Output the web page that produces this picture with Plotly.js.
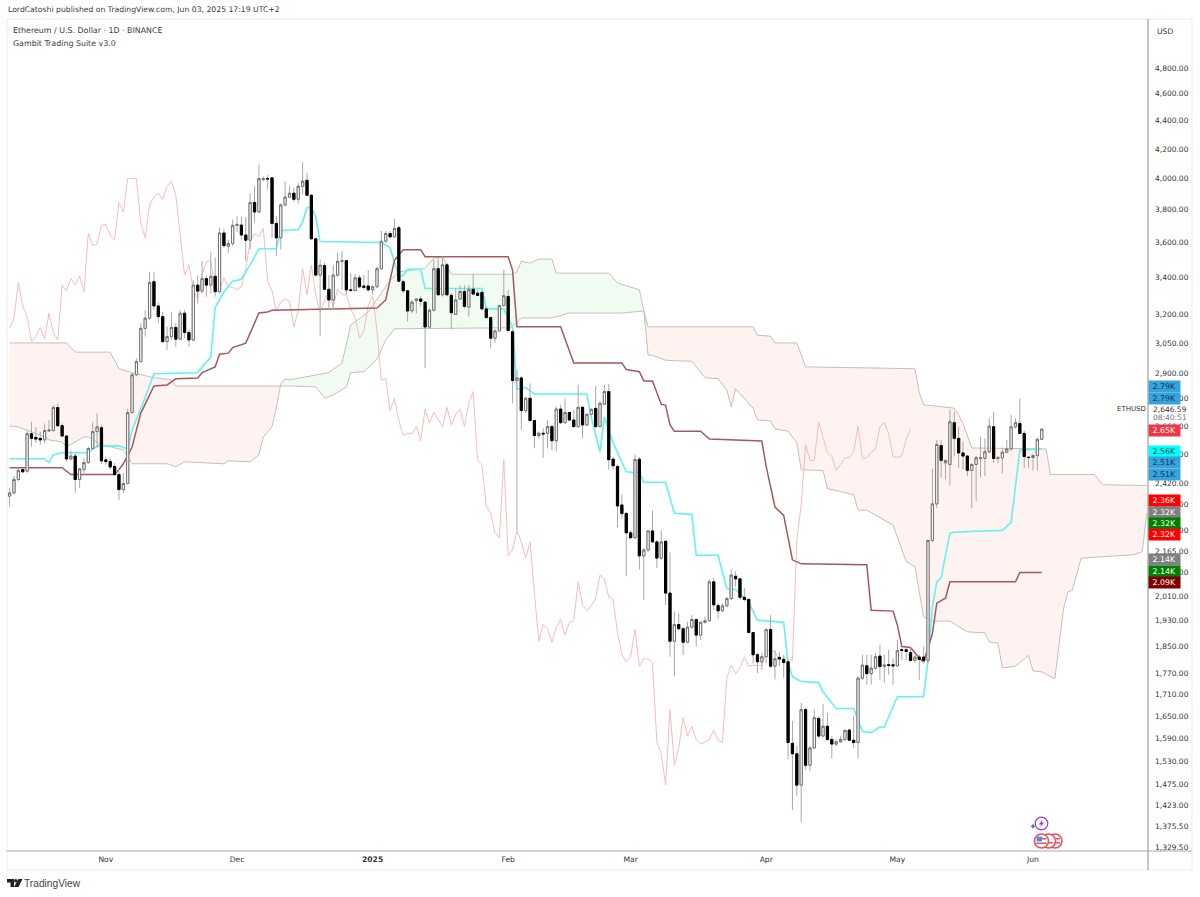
<!DOCTYPE html>
<html><head><meta charset="utf-8">
<script src="https://cdn.plot.ly/plotly-3.0.1.min.js"></script>
<style>html,body{margin:0;padding:0;background:#fff}#c{width:1200px;height:897px}</style>
</head><body><div id="c"></div>
<script>
// Daily ETH/USD candles, first bar 2024-10-10, last bar 2025-06-03
const opens = [
2370,2383,2436,2476,2470,2627,2611,2607,2600,2639,
2641,2743,2662,2617,2520,2532,2436,2476,2505,2564,
2636,2653,2516,2509,2489,2456,2396,2420,2720,2895,
2958,3125,3178,3375,3243,3186,3058,3083,3130,3070,
3204,3104,3066,3356,3323,3392,3356,3405,3320,3657,
3578,3594,3703,3705,3645,3614,3845,3786,3994,4000,
4005,3715,3628,3830,3880,3905,3866,3950,3989,3892,
3622,3412,3466,3333,3275,3412,3490,3494,3330,3326,
3396,3351,3351,3330,3347,3448,3608,3654,3634,3689,
3375,3325,3216,3271,3280,3263,3132,3220,3448,3303,
3470,3300,3198,3280,3321,3236,3333,3312,3316,3227,
3181,3075,3112,3245,3294,3108,2868,2880,2729,2785,
2685,2619,2629,2629,2658,2597,2736,2675,2720,2687,
2658,2744,2665,2712,2739,2658,2758,2816,2519,2489,
2336,2303,2231,2213,2519,2148,2169,2238,2198,2140,
2200,2020,1866,1918,1905,1863,1910,1934,1885,1925,
1930,2058,1979,1962,1978,2002,2077,2068,2006,1999,
1893,1825,1804,1819,1902,1791,1817,1811,1804,1577,
1550,1472,1667,1521,1565,1643,1596,1622,1587,1575,
1581,1587,1612,1585,1579,1756,1792,1769,1785,1821,
1790,1795,1795,1792,1840,1840,1832,1808,1818,1818,
1808,2203,2340,2576,2504,2497,2675,2607,2545,2532,
2473,2497,2522,2522,2550,2657,2522,2525,2548,2562,
2657,2672,2628,2527,2526,2534,2603];
const highs = [
2403,2450,2483,2483,2641,2679,2656,2636,2672,2687,
2755,2762,2672,2621,2556,2543,2483,2523,2571,2679,
2717,2665,2529,2523,2503,2469,2463,2738,2903,2974,
3152,3220,3430,3430,3263,3212,3135,3212,3152,3222,
3222,3118,3383,3410,3492,3410,3543,3512,3690,3680,
3618,3740,3760,3755,3755,3905,3950,4093,4015,4025,
4005,3760,3840,3983,3950,3940,3970,4110,4040,3900,
3628,3500,3482,3412,3470,3540,3550,3494,3422,3418,
3412,3412,3440,3356,3460,3669,3669,3669,3743,3699,
3384,3330,3275,3285,3294,3267,3230,3500,3510,3520,
3482,3312,3339,3356,3356,3356,3418,3330,3321,3240,
3186,3121,3249,3440,3330,3114,2919,2888,2792,2855,
2687,2636,2650,2687,2665,2747,2755,2785,2725,2732,
2848,2747,2717,2739,2842,2770,2848,2852,2528,2496,
2376,2310,2240,2538,2528,2175,2240,2315,2204,2240,
2204,2160,1959,1954,1910,1927,1948,1937,1927,1943,
2066,2072,1986,1986,2008,2100,2094,2072,2037,2002,
1895,1830,1830,1905,1948,1838,1834,1824,1809,1636,
1570,1685,1672,1570,1667,1650,1683,1658,1596,1587,
1596,1613,1615,1650,1761,1825,1825,1825,1830,1855,
1825,1840,1814,1870,1845,1845,1850,1825,1825,1850,
2208,2480,2600,2600,2517,2732,2725,2657,2593,2537,
2503,2532,2614,2607,2694,2725,2532,2567,2600,2709,
2694,2784,2640,2532,2541,2607,2650];
const lows = [
2330,2376,2430,2463,2463,2572,2586,2579,2586,2636,
2636,2657,2614,2509,2516,2383,2403,2463,2500,2558,
2564,2500,2496,2476,2449,2356,2383,2416,2716,2887,
2958,3083,3168,3222,3152,3050,3015,3066,3030,3066,
3075,3030,3058,3257,3311,3293,3311,3293,3311,3570,
3540,3578,3663,3618,3492,3560,3720,3780,3983,3930,
3628,3520,3560,3820,3875,3850,3840,3895,3885,3620,
3402,3085,3330,3222,3222,3402,3330,3303,3321,3321,
3339,3330,3321,3303,3339,3442,3598,3628,3628,3375,
3312,3160,3204,3204,3240,2926,3127,3212,3294,3294,
3294,3121,3195,3275,3230,3186,3303,3294,3222,3178,
3024,3050,3108,3240,3108,2762,2240,2645,2717,2680,
2565,2607,2524,2565,2558,2551,2672,2672,2680,2651,
2651,2607,2658,2709,2651,2655,2755,2476,2476,2252,
2284,2077,2210,2210,2100,1997,2163,2194,2106,2134,
1981,1819,1761,1900,1824,1860,1905,1850,1870,1921,
1927,1964,1937,1959,1973,1997,2042,1997,1992,1890,
1799,1771,1780,1799,1785,1752,1790,1757,1536,1413,
1446,1385,1510,1506,1562,1591,1594,1583,1538,1570,
1579,1583,1583,1566,1538,1751,1737,1737,1780,1751,
1742,1766,1737,1789,1809,1809,1804,1800,1751,1799,
1800,2198,2323,2443,2437,2413,2530,2482,2476,2449,
2323,2350,2443,2449,2543,2503,2503,2461,2543,2552,
2648,2628,2482,2482,2473,2473,2600];
const closes = [
2383,2436,2473,2467,2627,2607,2604,2600,2641,2643,
2743,2662,2617,2520,2532,2436,2479,2505,2564,2636,
2657,2512,2509,2487,2456,2396,2420,2720,2895,2958,
3125,3178,3370,3243,3186,3058,3083,3130,3070,3204,
3104,3066,3356,3323,3392,3356,3405,3320,3657,3582,
3594,3703,3709,3645,3614,3845,3786,4000,4000,3998,
3715,3628,3830,3880,3905,3866,3950,3983,3892,3622,
3412,3468,3333,3275,3412,3490,3494,3330,3326,3396,
3347,3344,3330,3347,3448,3608,3654,3634,3685,3378,
3325,3216,3263,3280,3268,3132,3220,3448,3303,3470,
3303,3207,3275,3321,3240,3333,3307,3299,3227,3181,
3075,3112,3245,3298,3114,2868,2880,2729,2785,2685,
2619,2629,2626,2658,2597,2736,2675,2720,2687,2658,
2744,2665,2712,2735,2658,2762,2816,2517,2492,2332,
2303,2231,2213,2517,2148,2169,2238,2198,2140,2198,
2020,1866,1918,1905,1863,1910,1934,1885,1925,1930,
2058,1981,1962,1978,2002,2081,2068,2006,1999,1893,
1825,1804,1819,1902,1791,1813,1812,1802,1579,1550,
1472,1667,1521,1565,1645,1596,1622,1587,1575,1581,
1587,1611,1585,1579,1756,1794,1769,1785,1819,1790,
1794,1793,1792,1837,1838,1835,1808,1818,1811,1808,
2203,2340,2581,2514,2514,2679,2607,2545,2532,2473,
2497,2525,2525,2550,2660,2522,2525,2548,2562,2657,
2675,2628,2530,2526,2534,2603,2646.59];

// Thin pink line, one value a day from the first bar
const laggingSpan = [
3125,3178,3370,3243,3186,3058,3083,3130,3070,3204,
3104,3066,3356,3323,3392,3356,3405,3320,3657,3582,
3594,3703,3709,3645,3614,3845,3786,4000,4000,3998,
3715,3628,3830,3880,3905,3866,3950,3983,3892,3622,
3412,3468,3333,3275,3412,3490,3494,3330,3326,3396,
3347,3344,3330,3347,3448,3608,3654,3634,3685,3378,
3325,3216,3263,3280,3268,3132,3220,3448,3303,3470,
3303,3207,3275,3321,3240,3333,3307,3299,3227,3181,
3075,3112,3245,3298,3114,2868,2880,2729,2785,2685,
2619,2629,2626,2658,2597,2736,2675,2720,2687,2658,
2744,2665,2712,2735,2658,2762,2816,2517,2492,2332,
2303,2231,2213,2517,2148,2169,2238,2198,2140,2198,
2020,1866,1918,1905,1863,1910,1934,1885,1925,1930,
2058,1981,1962,1978,2002,2081,2068,2006,1999,1893,
1825,1804,1819,1902,1791,1813,1812,1802,1579,1550,
1472,1667,1521,1565,1645,1596,1622,1587,1575,1581,
1587,1611,1585,1579,1756,1794,1769,1785,1819,1790,
1794,1793,1792,1837,1838,1835,1808,1818,1811,1808,
2203,2340,2581,2514,2514,2679,2607,2545,2532,2473,
2497,2525,2525,2550,2660,2522,2525,2548,2562,2657,
2675,2628,2530,2526,2534,2603,2646.59];

// Cyan line: bar number and price
const fastDays = [0,8,9,10,12,18,20,25,27,28,31,33,43,44,46,47,49,51,53,55,57,61,62,66,67,68,69,70,71,85,87,89,90,91,94,95,108,109,113,115,116,118,120,132,133,135,136,138,141,144,145,150,152,156,157,162,164,166,169,171,177,178,179,181,185,186,189,193,195,197,199,200,203,209,210,211,212,213,215,216,221,227,229,231,236];
const fastVals = [2521,2521,2504,2537,2546,2546,2575,2575,2562,2643,2790,2900,2905,2933,2980,3235,3318,3378,3389,3470,3563,3563,3672,3678,3725,3813,3813,3757,3606,3600,3570,3400,3411,3444,3444,3337,3337,3227,3227,3133,2827,2835,2805,2805,2700,2550,2700,2588,2467,2463,2425,2425,2304,2300,2150,2150,2035,2032,1990,1932,1925,1800,1760,1746,1743,1717,1670,1670,1608,1605,1620,1620,1703,1703,1808,1975,2058,2072,2230,2233,2237,2240,2270,2557,2562];
// Brown line
const slowDays = [0,12,14,24,25,26,28,30,33,36,38,43,44,47,48,50,51,54,57,59,60,84,86,88,90,94,95,114,115,116,126,129,140,141,144,145,147,149,150,151,152,158,160,172,173,175,177,179,181,196,197,202,203,204,206,208,209,211,212,214,215,230,231,236];
const slowVals = [2484,2484,2456,2456,2476,2500,2570,2718,2842,2847,2876,2880,2905,2933,2995,3000,3028,3050,3205,3210,3220,3232,3275,3497,3558,3558,3517,3517,3440,3133,3133,2952,2952,2920,2910,2866,2866,2758,2753,2665,2638,2638,2604,2596,2488,2328,2296,2134,2120,2117,1964,1961,1916,1850,1847,1815,1803,1890,1987,2003,2058,2058,2090,2090];
// Cloud edges
const spanADays = [0,2,5,8,9,12,13,15,17,18,21,26,28,36,38,40,49,50,55,57,58,60,61,62,63,64,73,76,77,78,82,85,87,89,95,97,99,101,115,116,117,119,121,124,125,137,139,144,145,146,147,150,156,159,162,164,165,166,168,170,171,174,175,178,180,181,186,187,193,194,196,202,205,207,209,211,215,219,223,224,226,227,230,233,234,236,239,241,242,243,245,252,257,259,260];
const spanAVals = [2661,2657,2635,2613,2600,2592,2571,2592,2613,2613,2579,2558,2500,2500,2488,2508,2500,2512,2508,2537,2613,2657,2745,2852,2876,2871,2905,2952,3051,3143,3210,3315,3383,3430,3450,3510,3517,3417,3417,3430,3491,3480,3503,3503,3423,3423,3368,3330,3220,2990,2990,2965,2960,2881,2876,2823,2745,2829,2786,2740,2687,2683,2648,2638,2587,2476,2472,2400,2376,2316,2316,2260,2128,2110,1942,1929,1929,1895,1892,1864,1860,1786,1791,1823,1777,1774,1754,1970,2025,2029,2140,2148,2152,2163,2304];
const spanBDays = [0,13,15,23,25,28,33,37,38,62,64,70,72,74,76,77,78,81,84,86,88,114,115,117,124,128,140,145,146,170,171,174,175,180,182,204,207,208,209,216,217,218,220,237,238,248,250,260];
const spanBVals = [3051,3051,3005,3005,2924,2905,2881,2871,2842,2842,2842,2838,2786,2800,2823,2838,2905,2910,2970,3065,3123,3128,3133,3179,3179,3205,3205,3216,3133,3133,3090,3085,3051,3051,2933,2928,2924,2810,2755,2740,2710,2672,2566,2562,2456,2456,2415,2412];

// Axis text
const monthDates = ['2024-11-01','2024-12-01','2025-01-01','2025-02-01','2025-03-01','2025-04-01','2025-05-01','2025-06-01'];
const monthLabels = ['Nov','Dec','<b>2025</b>','Feb','Mar','Apr','May','Jun'];
const priceTicks = [4800,4600,4400,4200,4000,3800,3600,3400,3200,3050,2900,2785,2660,2540,2420,2340,2240,2165,2090,2010,1930,1850,1770,1710,1650,1590,1530,1475,1423,1375.5,1329.5];
const priceTickText = ['4,800.00','4,600.00','4,400.00','4,200.00','4,000.00','3,800.00','3,600.00','3,400.00','3,200.00','3,050.00','2,900.00','2,785.00','2,660.00','2,540.00','2,420.00','2,340.00','2,240.00','2,165.00','2,090.00','2,010.00','1,930.00','1,850.00','1,770.00','1,710.00','1,650.00','1,590.00','1,530.00','1,475.00','1,423.00','1,375.50','1,329.50'];

// Price tags on the axis
const tagText = ['2.79K','2.79K','2.65K','2.56K','2.51K','2.51K','2.36K','2.32K','2.32K','2.32K','2.14K','2.14K','2.09K'];
const tagFill = ['#36a3dc','#36a3dc','#f23645','#00ffff','#36a3dc','#36a3dc','#ff0000','#808080','#008000','#ff0000','#808080','#008000','#800000'];
const tagInk  = ['#12384f','#12384f','#ffffff','#0b4a4a','#12384f','#12384f','#ffffff','#ffffff','#ffffff','#ffffff','#ffffff','#ffffff','#ffffff'];
const tagRow  = [386.5,398.5,430.5,451,462.5,474,500.5,512,523,534.5,559.5,571.5,582.5];

const day = i => new Date(Date.UTC(2024, 9, 10 + i)).toISOString().slice(0, 10);
const barDates = closes.map((_, i) => day(i));

const L = 7, R = 1148, T = 20, B = 851;
const px = x => (x - L) / (R - L);
const py = y => (B - y) / (B - T);
const xRange = ['2024-10-09 09:36', '2025-06-27 07:12'];
const yRange = [3.12076, 3.7156];

function cloud(from, to, color) {
  const a = spanADays.map((d, i) => [d, spanAVals[i]]).filter(p => p[0] >= from && p[0] <= to);
  const b = spanBDays.map((d, i) => [d, spanBVals[i]]).filter(p => p[0] >= from && p[0] <= to).reverse();
  const pts = a.concat(b);
  return {type: 'scatter', mode: 'lines', x: pts.map(p => day(p[0])), y: pts.map(p => p[1]),
          fill: 'toself', fillcolor: color, line: {width: 0}, hoverinfo: 'skip'};
}
function line(days, vals, color, width) {
  return {type: 'scatter', mode: 'lines', x: days.map(day), y: vals, line: {color, width}, hoverinfo: 'skip'};
}

const traces = [
  cloud(0, 62, '#fef3f1'),
  cloud(62, 145, '#f2fbf1'),
  cloud(145, 260, '#fef3f1'),
  line(spanADays, spanAVals, '#c4bfbf', 1),
  line(spanBDays, spanBVals, '#c4bfbf', 1),
  line(laggingSpan.map((_, i) => i), laggingSpan, '#f6bcbc', 1),
  line(fastDays, fastVals, '#62f2f2', 1.6),
  line(slowDays, slowVals, '#a35a5a', 1.5),
  {type: 'candlestick', x: barDates, open: opens, high: highs, low: lows, close: closes,
   xaxis: 'x2', yaxis: 'y2', hoverinfo: 'skip',
   increasing: {line: {color: '#a8a8a8', width: 1}, fillcolor: '#ffffff'},
   decreasing: {line: {color: '#a8a8a8', width: 1}, fillcolor: '#000000'}},
  {type: 'candlestick', x: barDates, open: opens, close: closes,
   high: opens.map((o, i) => Math.max(o, closes[i])), low: opens.map((o, i) => Math.min(o, closes[i])),
   xaxis: 'x2', yaxis: 'y2', hoverinfo: 'skip',
   increasing: {line: {color: '#707070', width: 1}, fillcolor: '#ffffff'},
   decreasing: {line: {color: '#000000', width: 1}, fillcolor: '#000000'}}
];

const font = 'DejaVu Sans, sans-serif';
const note = (x, y, text, size, color, anchor, family) => ({xref: 'paper', yref: 'paper', x: px(x), y: py(y), text, showarrow: false,
  xanchor: anchor || 'left', yanchor: 'middle', font: {family: family || font, size, color}});

const annotations = [
  note(6, 10, 'LordCatoshi published on TradingView.com, Jun 03, 2025 17:19 UTC+2', 7.7, '#3a3a3a'),
  note(11, 30.5, 'Ethereum / U.S. Dollar · 1D · BINANCE', 7.9, '#3a3a3a'),
  note(11, 43.5, 'Gambit Trading Suite v3.0', 7.9, '#3a3a3a'),
  note(1165, 32, 'USD', 7.6, '#333', 'center'),
  note(1115, 409, 'ETHUSD', 7, '#333'),
  note(1170, 409, '2,646.59', 7.5, '#333', 'center'),
  note(1170, 418, '08:40:51', 7.5, '#777', 'center'),
  note(22, 884, 'TradingView', 10.2, '#444', 'left', 'Liberation Sans, sans-serif')
];
tagText.forEach((t, i) => annotations.push({xref: 'paper', yref: 'paper', x: px(1148), y: py(tagRow[i]), text: t,
  showarrow: false, xanchor: 'left', yanchor: 'middle', width: 30.5, height: 10.5, borderpad: 0, bgcolor: tagFill[i], align: 'center',
  font: {family: font, size: 7.8, color: tagInk[i]}}));

const pathOf = pts => 'M' + pts.map(p => px(p[0]) + ',' + py(p[1])).join('L') + 'Z';
const rule = (x0, y0, x1, y1, color) => ({type: 'line', xref: 'paper', yref: 'paper', x0: px(x0), y0: py(y0), x1: px(x1), y1: py(y1), line: {color, width: 1}, layer: 'above'});
const disc = (cx, cy, r, fill, stroke, w) => ({type: 'circle', xref: 'paper', yref: 'paper', x0: px(cx - r), x1: px(cx + r), y0: py(cy + r), y1: py(cy - r), fillcolor: fill, line: {color: stroke, width: w}, layer: 'above'});
const poly = (pts, fill) => ({type: 'path', xref: 'paper', yref: 'paper', path: pathOf(pts), fillcolor: fill, line: {width: 0}, layer: 'above'});

const shapes = [
  rule(7, 19, 1192, 19, '#ececec'),
  rule(7, 19, 7, 870, '#ececec'),
  rule(1192, 19, 1192, 870, '#ececec'),
  rule(7, 870, 1192, 870, '#ececec'),
  rule(7, 851, 1192, 851, '#a8a8a8'),
  rule(1148, 19, 1148, 870, '#8c8c8c'),
  // publisher logo
  poly([[7,879],[14,879],[14,887],[10.5,887],[10.5,882.5],[7,882.5]], '#222'),
  disc(15.8, 880.8, 1.7, '#222', '#222', 0),
  poly([[18.5,879],[22.5,879],[18.5,887],[14,887]], '#222'),
  // event icons
  disc(1041.5, 823.5, 6.3, '#ffffff', '#9c3fd0', 1.2),
  poly([[1042.5,819.5],[1039,824.5],[1041.3,824.5],[1040.3,827.5],[1044,822.5],[1041.8,822.5]], '#9c3fd0'),
  poly([[1033,823.5],[1034,825.5],[1036,826.3],[1034,827.1],[1033,829],[1032,827.1],[1030,826.3],[1032,825.5]], '#5b5bd6'),
  disc(1055, 841, 7, '#ffffff', '#e8505b', 1.6),
  poly([[1050,837],[1053,837],[1053,840.5],[1050,840.5]], '#4f8fe0'),
  poly([[1050,842],[1060,842],[1060,843.5],[1050,843.5]], '#e8505b'),
  poly([[1053,838],[1060,838],[1060,839.5],[1053,839.5]], '#e8505b'),
  disc(1048.5, 841, 7, '#ffffff', '#e8505b', 1.6),
  poly([[1044,842],[1053,842],[1053,843.5],[1044,843.5]], '#e8505b'),
  disc(1041.5, 841, 7, '#ffffff', '#e8505b', 1.6),
  poly([[1036.5,842.5],[1046.5,842.5],[1046.5,844],[1036.5,844]], '#e8505b'),
  poly([[1042,838],[1046.5,838],[1046.5,839.5],[1042,839.5]], '#e8505b'),
  poly([[1036.5,836.5],[1042,836.5],[1042,841.5],[1036.5,841.5]], '#4f8fe0')
];

const layout = {
  width: 1200, height: 897, showlegend: false, hovermode: false,
  paper_bgcolor: '#ffffff', plot_bgcolor: '#ffffff',
  margin: {l: L, r: 1200 - R, t: T, b: 897 - B, pad: 0},
  boxgap: 0.28,
  xaxis: {type: 'date', range: xRange, tickmode: 'array', tickvals: monthDates, ticktext: monthLabels,
          tickfont: {family: font, size: 7.6, color: '#333'}, ticks: '', ticklabelstandoff: 2, showgrid: false, zeroline: false, showline: false, fixedrange: true, tickangle: 0, rangeslider: {visible: false}},
  yaxis: {type: 'log', side: 'right', range: yRange, tickmode: 'array', tickvals: priceTicks, ticktext: priceTickText,
          tickfont: {family: font, size: 7.5, color: '#333'}, ticks: '', ticklabelstandoff: 6, showgrid: false, zeroline: false, showline: false, fixedrange: true},
  xaxis2: {type: 'date', range: xRange, overlaying: 'x', visible: false, fixedrange: true, rangeslider: {visible: false}},
  yaxis2: {type: 'log', range: yRange, overlaying: 'y', side: 'right', visible: false, fixedrange: true},
  annotations, shapes
};
Plotly.newPlot('c', traces, layout, {displayModeBar: false, staticPlot: true});
</script></body></html>
